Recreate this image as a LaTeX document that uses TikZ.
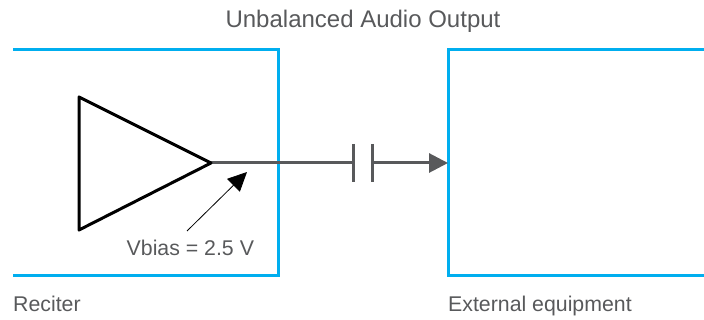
\documentclass[tikz,border=0pt]{standalone}
\usepackage{fontspec}
\setmainfont{Liberation Sans}
\usepackage{tikz}
\usetikzlibrary{positioning, arrows.meta}

\definecolor{boxblue}{HTML}{00AEEF}
\definecolor{wiregrey}{HTML}{58595B}

\begin{document}
\begin{tikzpicture}[
  x=1pt, y=1pt,
  boxline/.style={
        draw=boxblue,
        line width=3pt,
        line join=miter
  },
  wire/.style={
        draw=wiregrey,
        line width=3pt
  },
  labeltext/.style={
        text=wiregrey,
        font=\fontsize{21.3}{25}\selectfont,
        inner sep=0pt
  }
]

    \useasboundingbox (0,0) rectangle (704,-320);

    \coordinate (Reciter_tl) at (13,-50);
    \coordinate (Reciter_tr) at (278,-50);
    \coordinate (Reciter_br) at (278,-276);
    \coordinate (Reciter_bl) at (13,-276);

    \coordinate (Ext_tr) at (704,-50);
    \coordinate (Ext_tl) at (448,-50);
    \coordinate (Ext_bl) at (448,-276);
    \coordinate (Ext_br) at (704,-276);

    \coordinate (Amp_t) at (79,-97);
    \coordinate (Amp_b) at (79,-230);
    \coordinate (Amp_out) at (211,-163);

    \coordinate (Cap_l) at (353,-163);
    \coordinate[right=19pt of Cap_l] (Cap_r);
    \coordinate (Ext_in) at (448,-163);

    \coordinate[above=19pt of Cap_l] (Cap_lt);
    \coordinate[below=19pt of Cap_l] (Cap_lb);
    \coordinate[above=19pt of Cap_r] (Cap_rt);
    \coordinate[below=19pt of Cap_r] (Cap_rb);

    \coordinate (Bias_tail) at (187,-231);
    \coordinate (Bias_tip) at (247,-172);

    \draw[boxline] (Reciter_tl) -- (Reciter_tr) -- (Reciter_br) -- (Reciter_bl);
    \draw[boxline] (Ext_tr) -- (Ext_tl) -- (Ext_bl) -- (Ext_br);

    \draw[wire] (Amp_out) -- (Cap_l);
    \draw[wire] (Cap_lt) -- (Cap_lb);
    \draw[wire] (Cap_rt) -- (Cap_rb);
    \draw[wire, -{Triangle[length=19pt, width=19pt]}] (Cap_r) -- (Ext_in);

    \draw[black, line width=3pt, line join=round, line cap=round] (Amp_t) -- (Amp_out) -- (Amp_b) -- cycle;
    \draw[black, line width=0.8pt, -{Triangle[length=19pt, width=18pt]}] (Bias_tail) -- (Bias_tip);

    \node[labeltext, font=\fontsize{24}{28}\selectfont] (Title) at (363,-21) {Unbalanced Audio Output};
    \node[labeltext, anchor=west] (Vbias) at (126.5,-248) {Vbias = 2.5 V};
    \node[labeltext, anchor=base west] (Reciter) at (13,-312) {Reciter};
    \node[labeltext, anchor=base west] (Ext) at (448,-312) {External equipment};
\end{tikzpicture}
\end{document}
